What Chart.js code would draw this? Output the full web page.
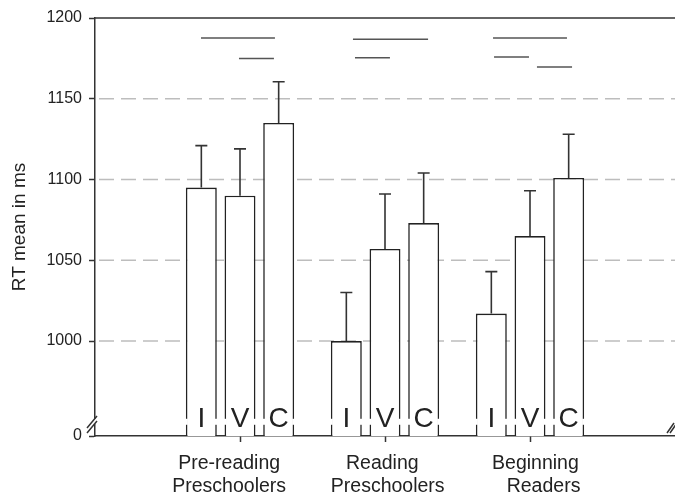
<!DOCTYPE html>
<html>
<head>
<meta charset="utf-8">
<script src="https://cdn.jsdelivr.net/npm/chart.js@4"></script>
<style>
  html, body { margin: 0; padding: 0; background: #fff; }
</style>
</head>
<body>
<canvas id="grafico" width="675" height="496"></canvas>
<script>
// groups on the x axis and the three conditions
const grupos = [['Pre-reading    ', 'Preschoolers    '], ['Reading ', ' Preschoolers'], ['  Beginning', '     Readers']];
const condiciones = ['I', 'V', 'C'];

// mean RT (ms) per group
const mediaI = [1095, 1000, 1017];
const mediaV = [1090, 1057, 1065];
const mediaC = [1135, 1073, 1101];

// top of the error bars
const errorI = [1121, 1030, 1043];
const errorV = [1119, 1091, 1093];
const errorC = [1160.5, 1104, 1128];

// y axis is broken: the bottom value is labelled 0
const yBase = 941.2;
const yTicks = [yBase, 1000, 1050, 1100, 1150, 1200];
const yTickLabels = ['0', '1000', '1050', '1100', '1150', '1200'];
const yGrid = [1000, 1050, 1100, 1150];
const yCorte = 950; // where the bars are cut

// significance lines (x in group units)
const sigInicio = [-0.269, -0.007, 0.779, 0.793, 1.745, 1.752, 2.048];
const sigFin    = [0.241, 0.234, 1.297, 1.034, 2.255, 1.993, 2.290];
const sigY      = [1187.6, 1175, 1186.8, 1175.4, 1187.6, 1175.9, 1169.7];

const medias = [mediaI, mediaV, mediaC];
const errores = [errorI, errorV, errorC];
const fuente = '"Liberation Sans", Arial, sans-serif';

const barras = condiciones.map((c, k) => ({
    type: 'bar',
    label: c,
    data: medias[k].map((v, i) => ({ x: i, y: v })),
    errTop: errores[k],
    backgroundColor: '#fff',
    borderColor: '#222',
    borderWidth: 1.6,
    categoryPercentage: 0.8,
    barPercentage: 0.8
}));

const lineas = sigY.map((v, k) => ({
    type: 'line',
    data: [{ x: sigInicio[k], y: v }, { x: sigFin[k], y: v }],
    borderColor: '#555',
    borderWidth: 1.5,
    pointRadius: 0,
    fill: false
}));

// gridlines, error bars, letters and axis breaks
const extras = {
    id: 'extras',
    beforeDatasetsDraw(chart) {
        const { ctx, chartArea: a, scales: { y } } = chart;
        ctx.save();
        ctx.strokeStyle = '#bdbdbd';
        ctx.lineWidth = 1.5;
        ctx.setLineDash([15, 7]);
        yGrid.forEach(v => {
            const py = y.getPixelForValue(v);
            ctx.beginPath();
            ctx.moveTo(a.left + 4, py);
            ctx.lineTo(a.right, py);
            ctx.stroke();
        });
        ctx.restore();
    },
    afterDatasetsDraw(chart) {
        const { ctx, chartArea: a, scales: { y } } = chart;
        const yGap = y.getPixelForValue(yCorte);
        ctx.save();
        chart.data.datasets.forEach((ds, di) => {
            if (!ds.errTop) return;
            chart.getDatasetMeta(di).data.forEach((bar, i) => {
                const top = y.getPixelForValue(ds.errTop[i]);
                ctx.strokeStyle = '#333';
                ctx.lineWidth = 1.6;
                ctx.beginPath();
                ctx.moveTo(bar.x, bar.y);
                ctx.lineTo(bar.x, top);
                ctx.moveTo(bar.x - 6, top);
                ctx.lineTo(bar.x + 6, top);
                ctx.stroke();

                const half = bar.width / 2;
                ctx.fillStyle = '#fff';
                ctx.fillRect(bar.x - half - 2, yGap - 3, 4, 6);
                ctx.fillRect(bar.x + half - 2, yGap - 3, 4, 6);

                ctx.fillStyle = '#222';
                ctx.font = '28px ' + fuente;
                ctx.textAlign = 'center';
                ctx.textBaseline = 'alphabetic';
                ctx.fillText(ds.label, bar.x, a.bottom - 9);
            });
        });

        // top frame line
        ctx.strokeStyle = '#333';
        ctx.lineWidth = 1.5;
        ctx.beginPath();
        ctx.moveTo(a.left, a.top);
        ctx.lineTo(a.right, a.top);
        ctx.stroke();

        // axis break marks
        ctx.fillStyle = '#fff';
        ctx.fillRect(a.left - 2, a.bottom - 17, 4, 5);
        ctx.strokeStyle = '#333';
        ctx.lineWidth = 1.5;
        ctx.beginPath();
        ctx.moveTo(a.left - 8, a.bottom - 8);
        ctx.lineTo(a.left + 2, a.bottom - 20);
        ctx.moveTo(a.left - 8, a.bottom - 3);
        ctx.lineTo(a.left + 2, a.bottom - 15);
        ctx.moveTo(a.right - 8, a.bottom - 3);
        ctx.lineTo(a.right - 1, a.bottom - 13);
        ctx.moveTo(a.right - 5, a.bottom - 3);
        ctx.lineTo(a.right + 2, a.bottom - 13);
        ctx.stroke();
        ctx.restore();
    }
};

new Chart(document.getElementById('grafico'), {
    type: 'bar',
    data: { datasets: [...barras, ...lineas] },
    options: {
        responsive: false,
        animation: false,
        layout: { padding: { top: 18, right: 0, left: 0, bottom: 0 } },
        plugins: { legend: { display: false }, tooltip: { enabled: false } },
        scales: {
            x: {
                type: 'linear',
                min: -1,
                max: 3,
                offset: false,
                afterBuildTicks: s => { s.ticks = grupos.map((g, i) => ({ value: i })); },
                afterFit: s => { s.height = 60; },
                ticks: {
                    callback: (v, i) => grupos[i],
                    color: '#222',
                    font: { family: fuente, size: 19.5, lineHeight: 1.18 },
                    padding: 10,
                    maxRotation: 0,
                    autoSkip: false
                },
                grid: { offset: false, drawOnChartArea: false, tickLength: 6, tickColor: '#333', tickWidth: 1.5 },
                border: { color: '#333', width: 1.5 }
            },
            y: {
                min: yBase,
                max: 1200,
                afterBuildTicks: s => { s.ticks = yTicks.map(v => ({ value: v })); },
                afterFit: s => { s.width = 95; },
                ticks: {
                    callback: (v, i) => yTickLabels[i],
                    color: '#222',
                    font: { family: fuente, size: 16 },
                    padding: 7
                },
                grid: { drawOnChartArea: false, tickLength: 6, tickColor: '#333', tickWidth: 1.5 },
                border: { color: '#333', width: 1.5 },
                title: {
                    display: true,
                    text: 'RT mean in ms',
                    color: '#222',
                    font: { family: fuente, size: 19 },
                    padding: { top: 8, bottom: 0 }
                }
            }
        }
    },
    plugins: [extras]
});
</script>
</body>
</html>
